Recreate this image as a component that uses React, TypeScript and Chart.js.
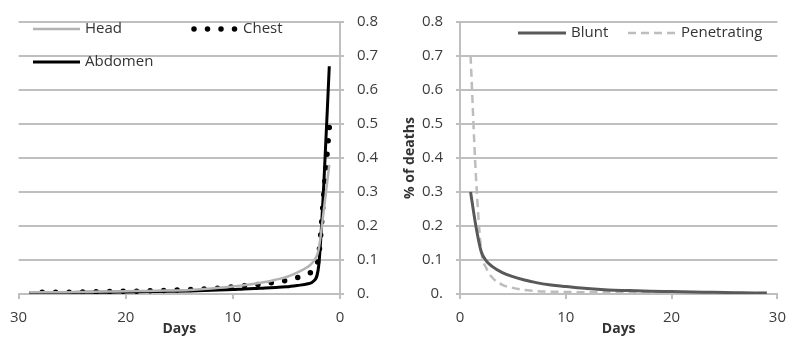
import React, { useEffect, useRef } from "react";
import { Chart, registerables } from "chart.js";

Chart.register(...registerables);

// ---- data ----
const DAYS = [1, 1.5, 2, 2.5, 3, 4, 5, 6, 7, 8, 9, 10, 12, 14, 16, 18, 20, 22, 24, 26, 28, 29];

const HEAD = [0.38, 0.25, 0.13, 0.095, 0.08, 0.063, 0.05, 0.042, 0.035, 0.03, 0.026, 0.022, 0.016, 0.012, 0.01, 0.009, 0.008, 0.007, 0.006, 0.005, 0.005, 0.005];
const CHEST = [0.49, 0.3, 0.11, 0.07, 0.06, 0.048, 0.04, 0.035, 0.031, 0.027, 0.024, 0.021, 0.016, 0.013, 0.011, 0.009, 0.008, 0.007, 0.006, 0.005, 0.005, 0.005];
const ABDOMEN = [0.67, 0.33, 0.08, 0.037, 0.03, 0.025, 0.021, 0.019, 0.018, 0.016, 0.015, 0.013, 0.011, 0.009, 0.008, 0.007, 0.006, 0.005, 0.005, 0.004, 0.004, 0.004];

const BLUNT = [0.3, 0.2, 0.125, 0.097, 0.082, 0.063, 0.051, 0.042, 0.035, 0.029, 0.025, 0.022, 0.016, 0.012, 0.01, 0.008, 0.007, 0.006, 0.005, 0.004, 0.003, 0.003];
const PENETRATING = [0.7, 0.35, 0.13, 0.075, 0.05, 0.027, 0.018, 0.012, 0.009, 0.007, 0.0065, 0.006, 0.005, 0.005, 0.004, 0.004, 0.004, 0.003, 0.003, 0.003, 0.003, 0.003];

const LEFT_LABELS = ["Head", "Chest", "Abdomen"];
const RIGHT_LABELS = ["Blunt", "Penetrating"];
const X_TITLE = "Days";
const Y_TITLE = "% of deaths";
const Y_MIN = 0;
const Y_MAX = 0.8;
const Y_STEP = 0.1;
const X_MIN = 0;
const X_MAX = 30;
const X_STEP = 10;

// ---- styles ----
const FONT = '"Open Sans", "Liberation Sans", sans-serif';
const GRID = "#bfbfbf";
const TICK_COLOR = "#3c3c3c";
const TEXT_COLOR = "#333333";

const pts = (vals: number[]) => DAYS.map((d, i) => ({ x: d, y: vals[i] }));

const fmtY = (v: any) => (Number(v) === 0 ? "0." : Number(v).toFixed(1));

type LegendItem = { index: number; x: number; y: number; w: number };

function makeLegend(items: LegendItem[]) {
  return {
    id: "insideLegend",
    afterDraw(chart: any) {
      const ctx = chart.ctx;
      items.forEach((it) => {
        const ds = chart.data.datasets[it.index];
        ctx.save();
        ctx.strokeStyle = ds.borderColor;
        ctx.lineWidth = ds.borderWidth;
        ctx.setLineDash(ds.borderDash || []);
        ctx.lineCap = ds.borderCapStyle || "butt";
        ctx.beginPath();
        ctx.moveTo(it.x, it.y);
        ctx.lineTo(it.x + it.w, it.y);
        ctx.stroke();
        ctx.setLineDash([]);
        ctx.fillStyle = TEXT_COLOR;
        ctx.font = `15px ${FONT}`;
        ctx.textBaseline = "middle";
        ctx.textAlign = "left";
        ctx.fillText(ds.label, it.x + it.w + 5, it.y);
        ctx.restore();
      });
    },
  };
}

function baseLine(extra: any) {
  return {
    fill: false,
    pointRadius: 0,
    cubicInterpolationMode: "monotone",
    ...extra,
  };
}

function LeftChart() {
  const ref = useRef<HTMLCanvasElement>(null);
  useEffect(() => {
    const chart = new Chart(ref.current!, {
      type: "line",
      data: {
        datasets: [
          baseLine({ label: LEFT_LABELS[0], data: pts(HEAD), borderColor: "#b3b3b3", borderWidth: 2.5 }),
          baseLine({
            label: LEFT_LABELS[1],
            data: pts(CHEST),
            borderColor: "#000000",
            borderWidth: 5.5,
            borderDash: [0, 13.5],
            borderCapStyle: "round",
          }),
          baseLine({ label: LEFT_LABELS[2], data: pts(ABDOMEN), borderColor: "#000000", borderWidth: 3 }),
        ],
      },
      options: {
        animation: false,
        responsive: false,
        layout: { padding: { left: 14, top: 13, right: 0, bottom: 0 } },
        plugins: { legend: { display: false }, tooltip: { enabled: false } },
        scales: {
          x: {
            type: "linear",
            reverse: true,
            min: X_MIN,
            max: X_MAX,
            afterFit: (s: any) => { s.height = 43; },
            ticks: { stepSize: X_STEP, color: TICK_COLOR, font: { family: FONT, size: 15 }, padding: 10, maxRotation: 0 },
            grid: { drawOnChartArea: false, color: GRID, lineWidth: 2, tickLength: 5 },
            border: { color: GRID, width: 2 },
            title: { display: true, text: X_TITLE, color: TEXT_COLOR, font: { family: FONT, size: 14, weight: "bold" }, padding: 0 },
          },
          y: {
            position: "right",
            min: Y_MIN,
            max: Y_MAX,
            afterFit: (s: any) => { s.width = 60; },
            ticks: { stepSize: Y_STEP, color: TICK_COLOR, font: { family: FONT, size: 15 }, padding: 13, callback: fmtY },
            grid: { color: GRID, lineWidth: 2, tickLength: 4 },
            border: { color: GRID, width: 2 },
          },
        },
      },
      plugins: [
        makeLegend([
          { index: 0, x: 33, y: 29, w: 47 },
          { index: 1, x: 194, y: 29, w: 44 },
          { index: 2, x: 33, y: 62, w: 47 },
        ]),
      ],
    } as any);
    return () => chart.destroy();
  }, []);
  return <canvas ref={ref} width={400} height={337} style={{ width: 400, height: 337, display: "block" }} />;
}

function RightChart() {
  const ref = useRef<HTMLCanvasElement>(null);
  useEffect(() => {
    const chart = new Chart(ref.current!, {
      type: "line",
      data: {
        datasets: [
          baseLine({ label: RIGHT_LABELS[0], data: pts(BLUNT), borderColor: "#595959", borderWidth: 3 }),
          baseLine({
            label: RIGHT_LABELS[1],
            data: pts(PENETRATING),
            borderColor: "#bdbdbd",
            borderWidth: 2.5,
            borderDash: [8, 5],
          }),
        ],
      },
      options: {
        animation: false,
        responsive: false,
        layout: { padding: { left: 0, top: 13, right: 10, bottom: 0 } },
        plugins: { legend: { display: false }, tooltip: { enabled: false } },
        scales: {
          x: {
            type: "linear",
            min: X_MIN,
            max: X_MAX,
            afterFit: (s: any) => { s.height = 43; },
            ticks: { stepSize: X_STEP, color: TICK_COLOR, font: { family: FONT, size: 15 }, padding: 10, maxRotation: 0 },
            grid: { drawOnChartArea: false, color: GRID, lineWidth: 2, tickLength: 5 },
            border: { color: GRID, width: 2 },
            title: { display: true, text: X_TITLE, color: TEXT_COLOR, font: { family: FONT, size: 14, weight: "bold" }, padding: 0 },
          },
          y: {
            position: "left",
            min: Y_MIN,
            max: Y_MAX,
            afterFit: (s: any) => { s.width = 60; },
            ticks: { stepSize: Y_STEP, color: TICK_COLOR, font: { family: FONT, size: 15 }, padding: 13, callback: fmtY },
            grid: { color: GRID, lineWidth: 2, tickLength: 4 },
            border: { color: GRID, width: 2 },
            title: { display: true, text: Y_TITLE, color: TEXT_COLOR, font: { family: FONT, size: 14, weight: "bold" }, padding: { top: 2, bottom: 0 } },
          },
        },
      },
      plugins: [
        makeLegend([
          { index: 0, x: 118, y: 33, w: 48 },
          { index: 1, x: 228, y: 33, w: 48 },
        ]),
      ],
    } as any);
    return () => chart.destroy();
  }, []);
  return <canvas ref={ref} width={396} height={337} style={{ width: 396, height: 337, display: "block" }} />;
}

export default function App() {
  return (
    <div style={{ position: "absolute", left: 0, top: 0, width: 796, height: 337, background: "#ffffff", overflow: "hidden" }}>
      <div style={{ position: "absolute", left: 0, top: 0, width: 400, height: 337 }}>
        <LeftChart />
      </div>
      <div style={{ position: "absolute", left: 400, top: 0, width: 396, height: 337 }}>
        <RightChart />
      </div>
    </div>
  );
}
